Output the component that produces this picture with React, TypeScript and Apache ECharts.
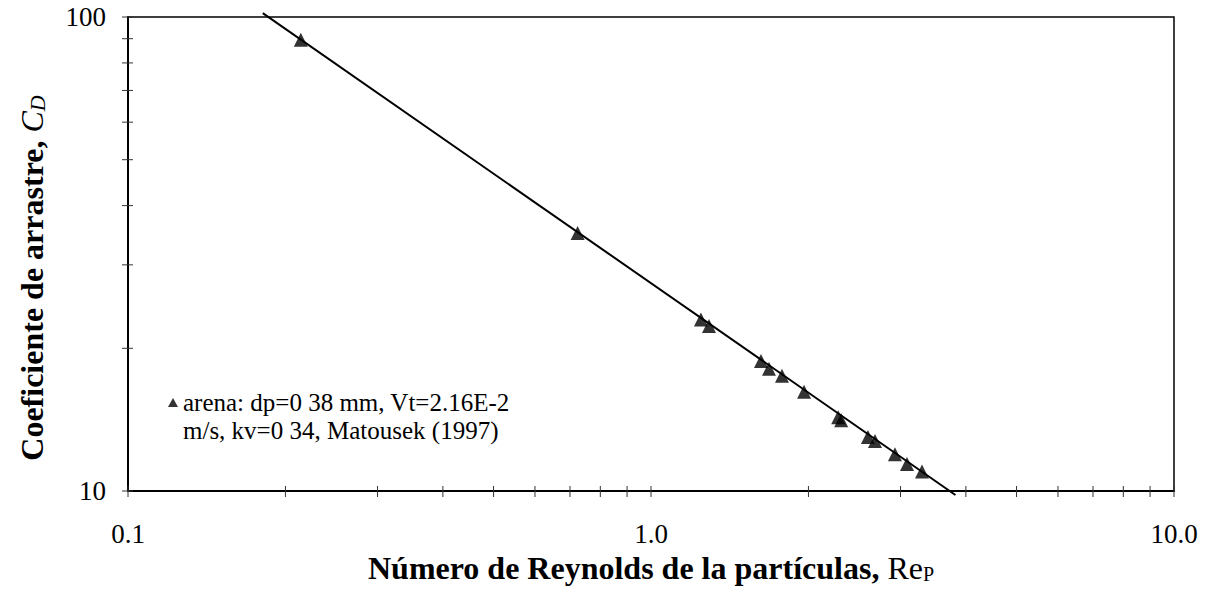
import React, { useEffect, useRef } from "react";
import * as echarts from "echarts";

// Data (Re_p, C_D)
const reynolds = [0.214, 0.724, 1.246, 1.291, 1.623, 1.681, 1.78, 1.962, 2.28, 2.31, 2.599, 2.681, 2.927, 3.087, 3.297];
const dragCoef = [89.5, 35.0, 23.0, 22.3, 18.8, 18.1, 17.5, 16.2, 14.3, 14.1, 13.0, 12.75, 11.95, 11.4, 11.0];
// Fitted line end points
const fitRe = [0.181, 3.82];
const fitCd = [101.9, 9.81];
// Tick values
const xTickValues = [0.1, 0.2, 0.3, 0.4, 0.5, 0.6, 0.7, 0.8, 0.9, 1, 2, 3, 4, 5, 6, 7, 8, 9, 10];
const yTickValues = [10, 20, 30, 40, 50, 60, 70, 80, 90, 100];
const X_MIN = 0.1, X_MAX = 10, Y_MIN = 10, Y_MAX = 100;

const legendLine1 = "arena: dp=0 38 mm, Vt=2.16E-2";
const legendLine2 = "m/s, kv=0 34, Matousek (1997)";

const FONT = "'Liberation Serif', 'Times New Roman', serif";

export default function App() {
  const ref = useRef<HTMLDivElement>(null);
  useEffect(() => {
    document.body.style.margin = "0";
    if (!ref.current) return;
    const chart = echarts.init(ref.current, null, { renderer: "svg" });
    const points = reynolds.map((x, i) => [x, dragCoef[i]]);
    const line = fitRe.map((x, i) => [x, fitCd[i]]);
    chart.setOption({
      animation: false,
      backgroundColor: "#fff",
      textStyle: { fontFamily: FONT, color: "#000" },
      grid: {
        left: 128, right: 34, top: 17, bottom: 116,
        show: true, borderColor: "#000", borderWidth: 1.5,
        outerBoundsMode: "none",
      },
      legend: {
        data: [{ name: legendLine1, icon: "triangle" }],
        left: 168, top: 390, padding: 0,
        itemWidth: 10, itemHeight: 9,
        textStyle: { fontFamily: FONT, fontSize: 25, color: "#000" },
        selectedMode: false,
      },
      graphic: [
        {
          type: "text", left: 183, top: 418,
          style: { text: legendLine2, font: `25px ${FONT}`, fill: "#000" },
        },
      ],
      xAxis: {
        type: "log", logBase: 10, min: X_MIN, max: X_MAX,
        axisLine: { show: true, lineStyle: { color: "#000", width: 2 } },
        axisTick: { show: false },
        splitLine: { show: false },
        axisLabel: {
          fontFamily: FONT, fontSize: 27, color: "#000", margin: 29,
          formatter: (v: number) => v.toFixed(1),
        },
        name: "{b|Número de Reynolds de la partículas, }{r|Re}{s|P}",
        nameLocation: "middle", nameGap: 52,
        nameTextStyle: {
          rich: {
            b: { fontFamily: FONT, fontSize: 32, fontWeight: "bold", color: "#000" },
            r: { fontFamily: FONT, fontSize: 32, color: "#000" },
            s: { fontFamily: FONT, fontSize: 20, color: "#000", verticalAlign: "bottom", padding: [10, 0, 0, 0] },
          },
        },
      },
      yAxis: {
        type: "log", logBase: 10, min: Y_MIN, max: Y_MAX,
        axisLine: { show: true, lineStyle: { color: "#000", width: 2 } },
        axisTick: { show: false },
        splitLine: { show: false },
        axisLabel: { fontFamily: FONT, fontSize: 27, color: "#000", margin: 22 },
        name: "{b|Coeficiente de arrastre, }{i|C}{s|D}",
        nameLocation: "middle", nameGap: 80, nameRotate: 90,
        nameTextStyle: {
          padding: [0, 48, 0, 0],
          rich: {
            b: { fontFamily: FONT, fontSize: 32, fontWeight: "bold", color: "#000" },
            i: { fontFamily: FONT, fontSize: 32, fontStyle: "italic", color: "#000" },
            s: { fontFamily: FONT, fontSize: 22, fontStyle: "italic", color: "#000", verticalAlign: "bottom", padding: [10, 0, 0, 0] },
          },
        },
      },
      series: [
        {
          name: "fit", type: "line", data: line, clip: false, symbol: "none",
          lineStyle: { color: "#000", width: 2 }, silent: true, z: 3,
        },
        {
          name: legendLine1, type: "scatter", data: points, symbol: "triangle", symbolSize: 14,
          itemStyle: { color: "#000" }, z: 4,
        },
        {
          name: "xticks", type: "custom", coordinateSystem: "cartesian2d", clip: false, silent: true,
          data: xTickValues.map((v) => [v, Y_MIN]),
          renderItem: (_p: any, api: any) => {
            const p = api.coord([api.value(0), api.value(1)]);
            return { type: "line", shape: { x1: p[0], y1: p[1] - 5, x2: p[0], y2: p[1] + 6 }, style: { stroke: "#333", lineWidth: 1 } };
          },
        },
        {
          name: "yticks", type: "custom", coordinateSystem: "cartesian2d", clip: false, silent: true,
          data: yTickValues.map((v) => [X_MIN, v]),
          renderItem: (_p: any, api: any) => {
            const p = api.coord([api.value(0), api.value(1)]);
            return { type: "line", shape: { x1: p[0] - 6, y1: p[1], x2: p[0] + 5, y2: p[1] }, style: { stroke: "#333", lineWidth: 1 } };
          },
        },
      ],
    });
    return () => chart.dispose();
  }, []);
  return <div ref={ref} style={{ width: 1208, height: 607 }} />;
}
